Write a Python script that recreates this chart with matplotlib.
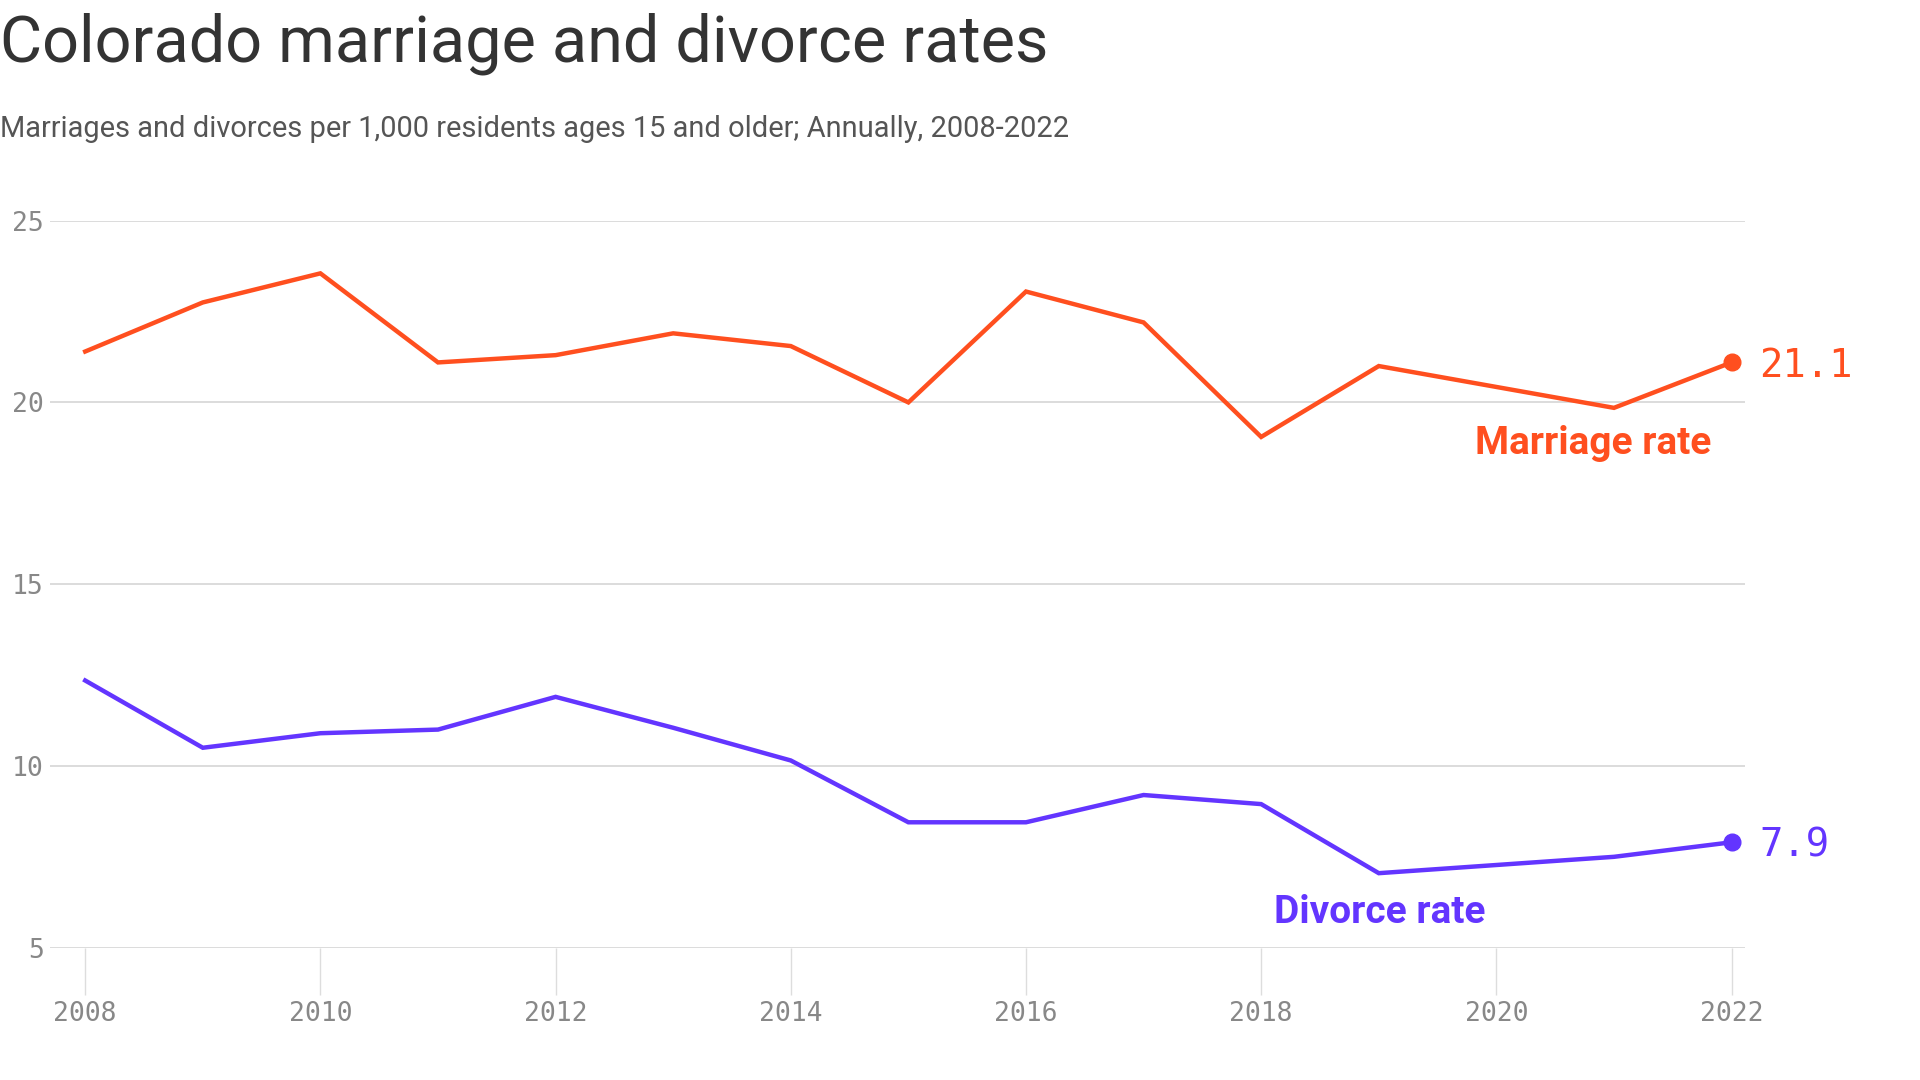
import matplotlib
matplotlib.use("Agg")
import matplotlib.pyplot as plt

# Datos (2020 no aparece en la serie)
anios = [2008, 2009, 2010, 2011, 2012, 2013, 2014, 2015, 2016, 2017, 2018, 2019, 2021, 2022]
tasa_matrimonio = [21.4, 22.75, 23.55, 21.1, 21.3, 21.9, 21.55, 20.0, 23.05, 22.2, 19.05, 21.0, 19.85, 21.1]
tasa_divorcio = [12.35, 10.5, 10.9, 11.0, 11.9, 11.05, 10.15, 8.45, 8.45, 9.2, 8.95, 7.05, 7.5, 7.9]

ticks_x = [2008, 2010, 2012, 2014, 2016, 2018, 2020, 2022]
ticks_y = [5, 10, 15, 20, 25]

color_mat = "#FF4F1F"
color_div = "#6335FF"
fuente_txt = "Roboto"
fuente_mono = "DejaVu Sans Mono"

fig = plt.figure(figsize=(19.2, 10.8), dpi=100)
ax = fig.add_axes([0.026, 0.1225, 0.8829, 0.6732])

# Líneas
ax.plot(anios, tasa_matrimonio, color=color_mat, linewidth=3.2, solid_joinstyle="miter", zorder=3)
ax.plot(anios, tasa_divorcio, color=color_div, linewidth=3.2, solid_joinstyle="miter", zorder=3)

# Punto final y valor
ax.plot(anios[-1], tasa_matrimonio[-1], "o", color=color_mat, markersize=12, zorder=4, clip_on=False)
ax.plot(anios[-1], tasa_divorcio[-1], "o", color=color_div, markersize=12, zorder=4, clip_on=False)
ax.annotate(f"{tasa_matrimonio[-1]:.1f}", (anios[-1], tasa_matrimonio[-1]), xytext=(20, -2.5),
            textcoords="offset points", va="center", ha="left", color=color_mat,
            fontsize=28, family=fuente_mono)
ax.annotate(f"{tasa_divorcio[-1]:.1f}", (anios[-1], tasa_divorcio[-1]), xytext=(20, -2.5),
            textcoords="offset points", va="center", ha="left", color=color_div,
            fontsize=28, family=fuente_mono)

# Etiquetas de las series
ax.text(2021.83, 18.86, "Marriage rate", ha="right", va="center", color=color_mat,
        fontsize=28, fontweight="bold", family=fuente_txt)
ax.text(2019.01, 5.98, "Divorce rate", ha="center", va="center", color=color_div,
        fontsize=28, fontweight="bold", family=fuente_txt)

# Ejes
ax.set_xlim(2007.70, 2022.115)
ax.set_ylim(5, 25)
ax.set_xticks(ticks_x)
ax.set_yticks(ticks_y)
ax.set_xticklabels([str(t) for t in ticks_x])
ax.set_yticklabels([str(t) for t in ticks_y])
ax.grid(axis="y", color="#d9d9d9", linewidth=1.3)
ax.set_axisbelow(True)
for s in ax.spines.values():
    s.set_visible(False)
ax.tick_params(axis="x", length=34, width=1, color="#dddddd", pad=4.5,
               labelsize=19, labelcolor="#888888")
ax.tick_params(axis="y", length=0, pad=4.5, labelsize=19, labelcolor="#888888")
for lab in ax.get_xticklabels() + ax.get_yticklabels():
    lab.set_family(fuente_mono)

# Título y subtítulo
fig.text(0.0, 0.9426, "Colorado marriage and divorce rates", ha="left", va="baseline",
         fontsize=46.6, color="#333333", family=fuente_txt)
fig.text(0.0, 0.873, "Marriages and divorces per 1,000 residents ages 15 and older; Annually, 2008-2022",
         ha="left", va="baseline", fontsize=20.9, color="#555555", family=fuente_txt)

plt.savefig("out.png", dpi=100)
plt.close()
